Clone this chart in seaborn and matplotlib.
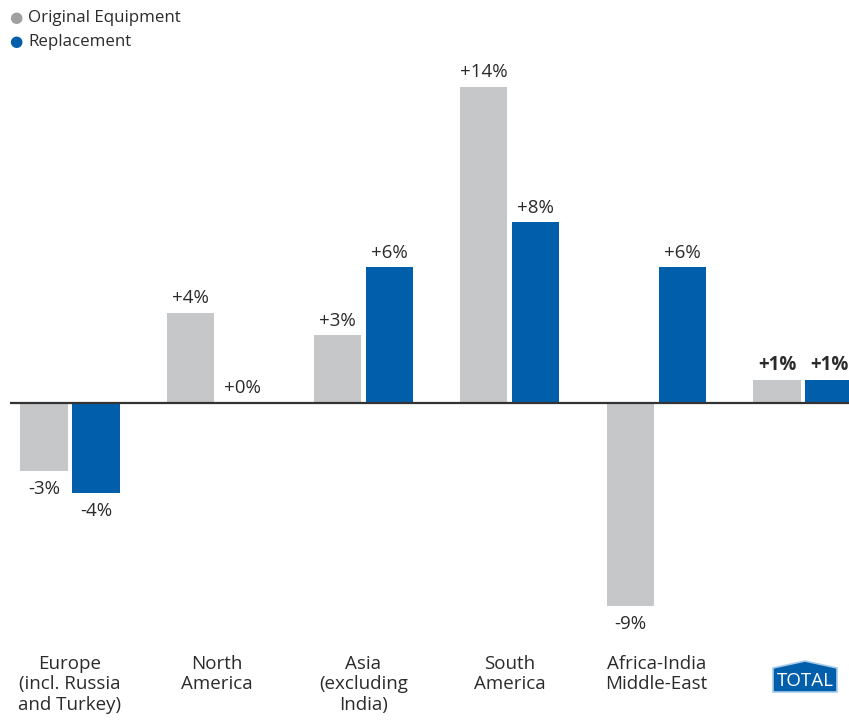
import matplotlib
matplotlib.use("Agg")
import matplotlib.pyplot as plt
from matplotlib.patches import Polygon
import seaborn as sns
import pandas as pd

# Growth by region, in percent
regions = ["Europe\n(incl. Russia\nand Turkey)", "North\nAmerica", "Asia\n(excluding\nIndia)",
           "South\nAmerica", "Africa-India\nMiddle-East", "TOTAL"]
original_equipment = [-3, 4, 3, 14, -9, 1]
replacement = [-4, 0, 6, 8, 6, 1]
series_names = ["Original Equipment", "Replacement"]

GREY = "#C6C7C9"
BLUE = "#005EAA"
TEXT = "#2B2B2B"

sns.set_theme(style="white")
plt.rcParams["font.family"] = ["Open Sans", "DejaVu Sans"]

df = pd.DataFrame({
    "region": regions * 2,
    "series": [series_names[0]] * len(regions) + [series_names[1]] * len(regions),
    "value": original_equipment + replacement,
})

W, H = 849, 720
fig = plt.figure(figsize=(W / 100, H / 100), dpi=100)

# axes placed in pixel terms: x from 10 to 849, y from 60 to 650
ax_left, ax_right, ax_top, ax_bottom = 10, 849, 60, 650
ax = fig.add_axes([ax_left / W, 1 - ax_bottom / H, (ax_right - ax_left) / W, (ax_bottom - ax_top) / H])

sns.barplot(data=df, x="region", y="value", hue="series", order=regions,
            hue_order=series_names, palette=[GREY, BLUE], width=0.709, gap=0.09,
            legend=False, ax=ax, saturation=1, linewidth=0)

# group spacing 146.6 px, first group centred at x=70 px
spacing = 146.6
x0 = (ax_left - 70) / spacing
x1 = (ax_right - 70) / spacing
ax.set_xlim(x0, x1)
ppu = 22.6
zero_px = 403
ax.set_ylim(-(ax_bottom - zero_px) / ppu, (zero_px - ax_top) / ppu)

ax.axhline(0, color="#333333", lw=1.6, zorder=5)
for s in ax.spines.values():
    s.set_visible(False)
ax.set_xticks([])
ax.set_yticks([])
ax.set_xlabel("")
ax.set_ylabel("")

# value labels
offset = 0.709 / 4
for i in range(len(regions)):
    bold = regions[i] == "TOTAL"
    for j, vals in enumerate([original_equipment, replacement]):
        v = vals[i]
        xc = i + (-offset if j == 0 else offset)
        label = f"{v:+d}%" if v != 0 else "+0%"
        if v >= 0:
            ax.annotate(label, (xc, v), xytext=(0, 4), textcoords="offset points",
                        ha="center", va="bottom", fontsize=13.5, color=TEXT,
                        fontweight="bold" if bold else "normal")
        else:
            ax.annotate(label, (xc, v), xytext=(0, -6.5), textcoords="offset points",
                        ha="center", va="top", fontsize=13.5, color=TEXT,
                        fontweight="bold" if bold else "normal")

# category labels below the chart
for i, r in enumerate(regions):
    xpx = 70 + spacing * i
    if r == "TOTAL":
        continue
    fig.text(xpx / W, 1 - 655 / H, r, ha="center", va="top", fontsize=13.5,
             color=TEXT, linespacing=1.17)

# TOTAL badge
cx = 805
badge = [(773, 692), (773, 668), (cx, 661), (837, 668), (837, 692)]
poly = Polygon([(x / W, 1 - y / H) for x, y in badge], closed=True,
               transform=fig.transFigure, facecolor=BLUE, edgecolor="#A9CBEA", lw=1.2)
fig.add_artist(poly)
fig.text(cx / W, 1 - 681 / H, "TOTAL", ha="center", va="center", fontsize=13.5,
         color="white", family=["Open Sans", "DejaVu Sans"])

# legend
for k, (name, col) in enumerate(zip(series_names, ["#A0A0A0", BLUE])):
    ypx = 18 + 24 * k
    fig.text(16 / W, 1 - ypx / H, "\u25CF", ha="center", va="center", fontsize=11,
             color=col, family=["DejaVu Sans"])
    fig.text(28 / W, 1 - ypx / H, name, ha="left", va="center", fontsize=12.2, color=TEXT)

fig.savefig("out.png", dpi=100)
